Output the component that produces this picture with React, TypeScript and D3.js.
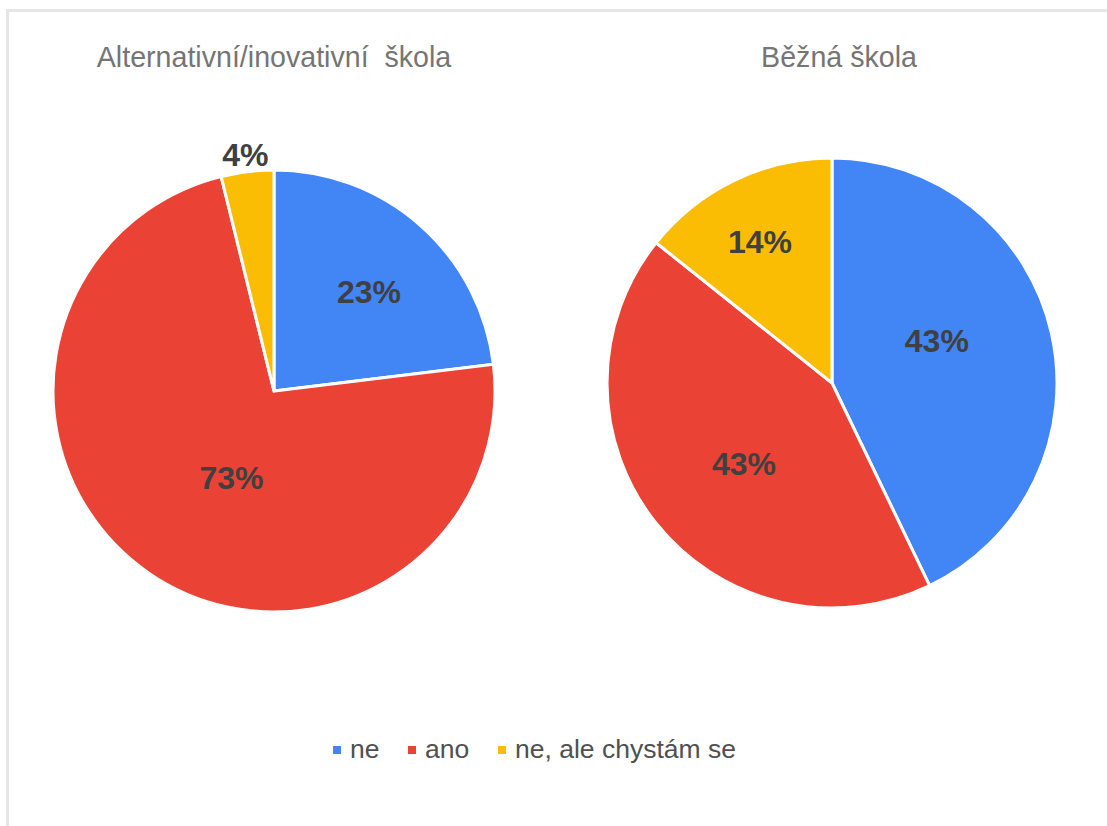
import React from "react";
import * as d3 from "d3";

const categories = ["ne", "ano", "ne, ale chystám se"];
const colors = ["#4285F4", "#EA4335", "#FBBC04"];

const altTitle = "Alternativní/inovativní  škola";
const altValues = [6, 19, 1];
// label placement: [fraction of radius, angle shift in degrees]
const altLabelPos = [[0.624, 2], [0.436, -8.4], [1.076, 0]];

const bezTitle = "Běžná škola";
const bezValues = [3, 3, 1];
const bezLabelPos = [[0.502, -9], [0.529, -3.7], [0.707, -1.2]];

const FONT = "Arial, 'Liberation Sans', sans-serif";

function Pie({ cx, cy, r, title, titleDx, values, labelPos }) {
  const pie = d3.pie<number>().sort(null).value((d) => d);
  const arcs = pie(values);
  const arc = d3.arc<d3.PieArcDatum<number>>().innerRadius(0).outerRadius(r);
  const total = d3.sum(values);
  const fmt = (v: number) => Math.round((v / total) * 100) + "%";

  return (
    <g transform={`translate(${cx},${cy})`}>
      <text
        x={titleDx}
        y={67 - cy}
        textAnchor="middle"
        fill="#757575"
        fontSize={28.6}
        fontFamily={FONT}
        style={{ whiteSpace: "pre" }}
      >
        {title}
      </text>
      {arcs.map((a, i) => (
        <path key={i} d={arc(a) || ""} fill={colors[i]} stroke="#fff" strokeWidth={3} />
      ))}
      {arcs.map((a, i) => {
        const [frac, shift] = labelPos[i];
        const ang = (a.startAngle + a.endAngle) / 2 + (shift * Math.PI) / 180;
        const lr = r * frac;
        const lx = lr * Math.sin(ang);
        const ly = -lr * Math.cos(ang);
        return (
          <text
            key={i}
            x={lx}
            y={ly}
            dy="0.36em"
            textAnchor="middle"
            fill="#404040"
            fontSize={32}
            fontWeight="bold"
            fontFamily={FONT}
          >
            {fmt(a.data)}
          </text>
        );
      })}
    </g>
  );
}

export default function App() {
  const legendX = [333, 408, 498];
  return (
    <div style={{ position: "absolute", left: 0, top: 0 }}>
      <svg width={1107} height={826} style={{ display: "block", background: "#fff" }}>
        <rect x={7.5} y={10.5} width={1200} height={900} fill="#fff" stroke="#e6e6e6" strokeWidth={3} />
        <Pie cx={274} cy={391} r={221} title={altTitle} titleDx={0} values={altValues} labelPos={altLabelPos} />
        <Pie cx={832} cy={383} r={225} title={bezTitle} titleDx={7} values={bezValues} labelPos={bezLabelPos} />
        <g>
          {categories.map((c, i) => (
            <g key={c} transform={`translate(${legendX[i]},0)`}>
              <rect x={0} y={746} width={8} height={8} fill={colors[i]} />
              <text x={17} y={758} fill="#505050" fontSize={26.5} fontFamily={FONT}>
                {c}
              </text>
            </g>
          ))}
        </g>
      </svg>
    </div>
  );
}
